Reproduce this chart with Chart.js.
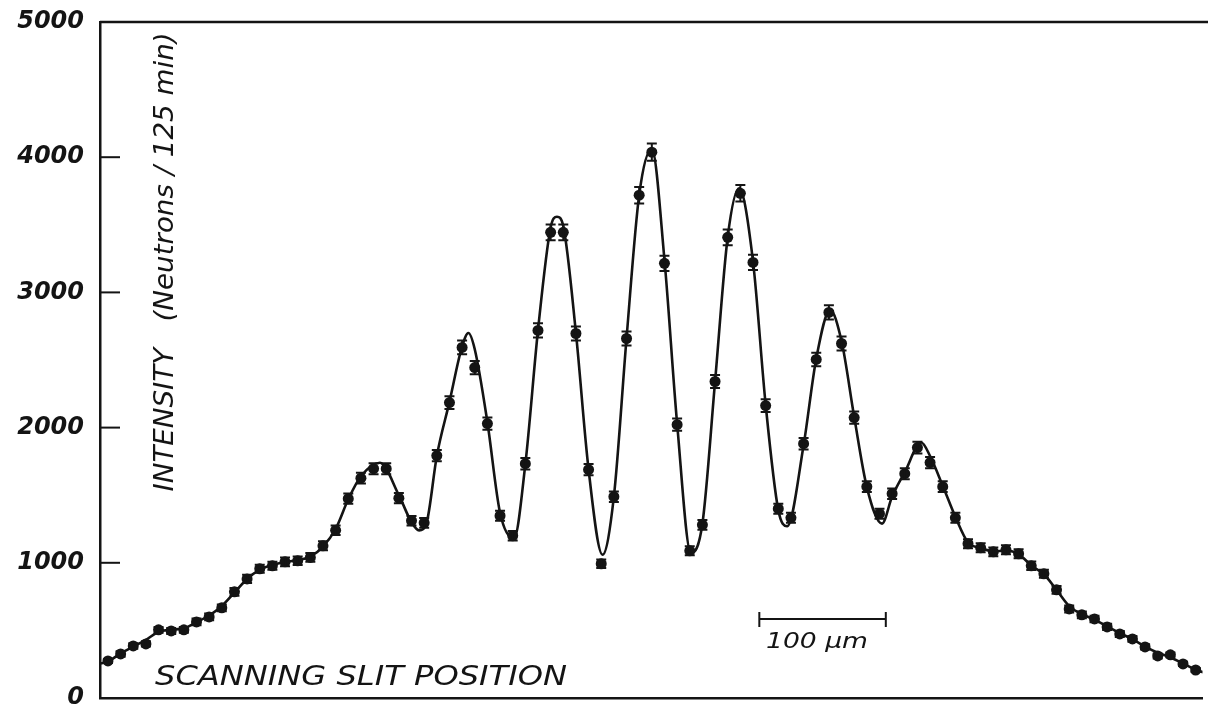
<!DOCTYPE html>
<html>
<head>
<meta charset="utf-8">
<script src="https://cdn.jsdelivr.net/npm/chart.js@4/dist/chart.umd.min.js"></script>
<style>
  html, body { margin: 0; padding: 0; background: #fff; }
  #c { display: block; }
</style>
</head>
<body>
<canvas id="c" width="1208" height="706"></canvas>
<script>
// Scanning slit position (µm) of each measured point
const positions = [0,10,20,30,40,50,60,70,80,90,100,110,120,130,140,150,160,170,180,190,
  200,210,220,230,240,250,260,270,280,290,300,310,320,330,340,350,360,370,380,390,
  400,410,420,430,440,450,460,470,480,490,500,510,520,530,540,550,560,570,580,590,
  600,610,620,630,640,650,660,670,680,690,700,710,720,730,740,750,760,770,780,790,
  800,810,820,830,840,850,860];
// Measured intensity (neutrons / 125 min)
const intensity = [274,326,385,400,504,496,504,563,600,667,785,881,956,978,1007,1015,1040,1126,1240,1474,
  1626,1696,1696,1478,1311,1296,1793,2185,2593,2444,2030,1348,1200,1733,2719,3444,3444,2696,1689,993,
  1489,2659,3719,4037,3215,2022,1089,1281,2341,3407,3733,3222,2163,1400,1333,1881,2504,2852,2622,2074,
  1563,1363,1511,1659,1852,1741,1563,1333,1141,1111,1081,1096,1067,978,919,800,659,615,585,526,
  474,437,378,311,319,252,207];
// Statistical error of each point
const errors = [15,20,20,20,22,22,22,25,25,25,28,30,30,30,32,32,32,34,35,38,
  40,41,41,38,36,36,42,47,51,49,45,37,35,42,52,59,59,52,41,32,
  39,52,61,64,57,45,33,36,48,58,61,57,47,37,37,43,50,53,51,46,
  40,37,39,41,43,42,40,37,34,33,33,33,33,31,30,28,26,25,24,23,
  22,21,19,18,18,16,14];
// Theoretical curve
const fitX = [-6,0,10,20,30,40,50,60,70,80,90,100,110,120,130,140,150,160,170,180,190,
  200,215,230,240,246,252,260,270,280,285,290,300,310,321,330,340,350,355,360,370,380,391,
  400,410,420,430,440,450,461,470,480,490,499,510,520,530,537,550,560,571,580,590,
  600,612,620,630,643,650,660,670,680,690,700,710,720,730,740,750,760,770,780,790,
  800,810,820,830,840,850,860,866];
const fitY = [255,270,330,380,430,490,505,515,560,610,680,780,880,950,985,1005,1020,1045,1120,1250,1470,
  1640,1740,1500,1300,1240,1300,1790,2190,2600,2700,2580,2040,1370,1180,1730,2720,3480,3560,3490,2700,1690,1060,
  1490,2660,3720,4060,3240,2030,1070,1290,2340,3410,3770,3230,2170,1390,1270,1870,2510,2870,2640,2080,
  1560,1290,1490,1670,1890,1790,1570,1340,1150,1110,1085,1090,1065,980,915,800,680,620,580,530,
  480,435,380,335,300,255,210,190];
const yTicks = [0,1000,2000,3000,4000,5000];

const INK = '#141414';

const decor = {
  id: 'decor',
  afterDatasetsDraw(chart) {
    const ctx = chart.ctx, xs = chart.scales.x, ys = chart.scales.y;
    // error bars
    ctx.save();
    ctx.strokeStyle = INK; ctx.lineWidth = 2;
    positions.forEach((p, i) => {
      const px = xs.getPixelForValue(p);
      const yTop = ys.getPixelForValue(intensity[i] + errors[i]);
      const yBot = ys.getPixelForValue(intensity[i] - errors[i]);
      ctx.beginPath();
      ctx.moveTo(px, yTop); ctx.lineTo(px, yBot);
      ctx.moveTo(px - 5, yTop); ctx.lineTo(px + 5, yTop);
      ctx.moveTo(px - 5, yBot); ctx.lineTo(px + 5, yBot);
      ctx.stroke();
    });
    ctx.restore();
  },
  afterDraw(chart) {
    const ctx = chart.ctx, a = chart.chartArea, xs = chart.scales.x, ys = chart.scales.y;
    ctx.save();
    ctx.strokeStyle = INK; ctx.fillStyle = INK;
    // top frame line
    ctx.lineWidth = 2.5;
    ctx.beginPath(); ctx.moveTo(a.left, a.top); ctx.lineTo(chart.width, a.top); ctx.stroke();
    // inward ticks
    ctx.lineWidth = 2;
    yTicks.forEach(v => {
      if (v === 0 || v === 5000) return;
      const py = ys.getPixelForValue(v);
      ctx.beginPath(); ctx.moveTo(a.left, py); ctx.lineTo(a.left + 20, py); ctx.stroke();
    });
    function fitText(str, font, x, y, width, align) {
      ctx.font = font;
      const w = ctx.measureText(str).width;
      ctx.save();
      ctx.translate(x, y);
      ctx.scale(width / w, 1);
      ctx.textAlign = align || 'left';
      ctx.fillText(str, 0, 0);
      ctx.restore();
    }
    // y axis title (rotated)
    ctx.save();
    ctx.translate(173, 262);
    ctx.rotate(-Math.PI / 2);
    ctx.textBaseline = 'alphabetic';
    fitText('INTENSITY   (Neutrons / 125 min)', 'oblique 27px "DejaVu Sans"', 0, 0, 459, 'center');
    ctx.restore();
    // x axis title
    ctx.textBaseline = 'alphabetic';
    fitText('SCANNING SLIT POSITION', 'oblique 27px "DejaVu Sans"', 155, 685, 412, 'left');
    // scale bar
    const x0 = xs.getPixelForValue(515), x1 = xs.getPixelForValue(615);
    ctx.lineWidth = 2;
    ctx.beginPath();
    ctx.moveTo(x0, 619); ctx.lineTo(x1, 619);
    ctx.moveTo(x0, 612); ctx.lineTo(x0, 627);
    ctx.moveTo(x1, 612); ctx.lineTo(x1, 627);
    ctx.stroke();
    fitText('100 µm', 'oblique 22px "DejaVu Sans"', 766, 648, 102, 'left');
    ctx.restore();
  }
};

new Chart(document.getElementById('c'), {
  type: 'scatter',
  data: {
    datasets: [
      {
        label: 'Theory',
        data: fitX.map((x, i) => ({ x: x, y: fitY[i] })),
        showLine: true,
        borderColor: INK,
        borderWidth: 2.6,
        pointRadius: 0,
        cubicInterpolationMode: 'monotone',
        order: 2
      },
      {
        label: 'Measured',
        data: positions.map((x, i) => ({ x: x, y: intensity[i] })),
        showLine: false,
        backgroundColor: INK,
        borderColor: INK,
        borderWidth: 0,
        pointRadius: 5.5,
        order: 1
      }
    ]
  },
  options: {
    responsive: false,
    animation: false,
    devicePixelRatio: 1,
    layout: { padding: { top: 22, right: 1, bottom: 8, left: 0 } },
    plugins: { legend: { display: false }, tooltip: { enabled: false } },
    scales: {
      x: {
        type: 'linear',
        min: -6.3,
        max: 865.4,
        grid: { display: false, drawTicks: false },
        ticks: { display: false },
        border: { display: true, color: INK, width: 2.5 },
        afterFit(s) { s.height = 0; s.paddingLeft = 0; s.paddingRight = 0; }
      },
      y: {
        min: 0,
        max: 5000,
        afterBuildTicks(s) { s.ticks = yTicks.map(v => ({ value: v })); },
        grid: { display: false, drawTicks: false },
        border: { display: true, color: INK, width: 2.5 },
        ticks: {
          color: INK,
          padding: 16,
          callback: (v) => String(v),
          font: { family: '"DejaVu Sans"', style: 'italic', weight: 'bold', size: 24 }
        },
        afterFit(s) { s.width = 100; s.paddingTop = 0; s.paddingBottom = 0; }
      }
    }
  },
  plugins: [decor]
});
</script>
</body>
</html>
